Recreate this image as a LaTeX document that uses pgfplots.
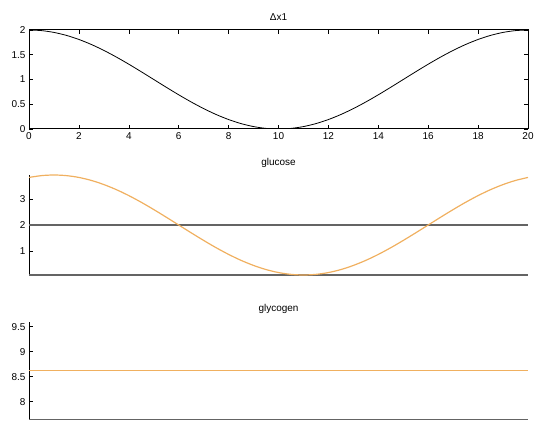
\documentclass[border=0pt]{standalone}
\usepackage{pgfplots}
\pgfplotsset{compat=1.18}
\usepackage{fontspec}
\setmainfont{Liberation Sans}

\definecolor{trace}{RGB}{240,176,96}
\definecolor{refline}{RGB}{100,100,100}

\pgfplotsset{
  panel/.style={
    scale only axis, width=499bp,
    xmin=0, xmax=20,
    tick align=inside, major tick length=4bp,
    tick style={black, line width=0.6bp},
    axis line style={line width=1bp},
    ticklabel style={font=\fontsize{10}{12}\selectfont},
    /pgf/number format/assume math mode=true,
    title style={font=\fontsize{10}{12}\selectfont, at={(0.5,1)}, anchor=base, yshift=4bp},
  }
}

\begin{document}
\begin{tikzpicture}[x=1bp,y=1bp]

% displacement
\begin{axis}[panel, at={(29bp,292bp)}, anchor=south west, height=99bp,
  ymin=0, ymax=2, ytick={0,0.5,1,1.5,2}, xtick={0,2,...,20},
  title={Δx1}]
\addplot[black, line width=0.8bp, smooth] coordinates {
 (0,2) (0.5,1.98769) (1,1.95106) (1.5,1.89101) (2,1.80902) (2.5,1.70711)
 (3,1.58779) (3.5,1.45399) (4,1.30902) (4.5,1.15643) (5,1) (5.5,0.84357)
 (6,0.69098) (6.5,0.54601) (7,0.41221) (7.5,0.29289) (8,0.19098) (8.5,0.10899)
 (9,0.04894) (9.5,0.01231) (10,0) (10.5,0.01231) (11,0.04894) (11.5,0.10899)
 (12,0.19098) (12.5,0.29289) (13,0.41221) (13.5,0.54601) (14,0.69098)
 (14.5,0.84357) (15,1) (15.5,1.15643) (16,1.30902) (16.5,1.45399) (17,1.58779)
 (17.5,1.70711) (18,1.80902) (18.5,1.89101) (19,1.95106) (19.5,1.98769) (20,2)
};
\end{axis}

% glucose
\begin{axis}[panel, at={(29bp,146bp)}, anchor=south west, height=100bp,
  ymin=0.08, ymax=3.92, ytick={1,2,3},
  axis y line*=left, axis x line=none,
  title={glucose}]
\addplot[refline, line width=1.1bp] coordinates {(0,0.08) (20,0.08)};
\addplot[refline, line width=1.1bp] coordinates {(0,2) (20,2)};
\addplot[trace, line width=1.2bp, smooth] coordinates {
 (0,3.826) (0.5,3.896) (1,3.920) (1.5,3.896) (2,3.826) (2.5,3.711) (3,3.553)
 (3.5,3.358) (4,3.129) (4.5,2.872) (5,2.593) (5.5,2.300) (6,2.000) (6.5,1.700)
 (7,1.407) (7.5,1.128) (8,0.871) (8.5,0.642) (9,0.447) (9.5,0.289) (10,0.174)
 (10.5,0.104) (11,0.080) (11.5,0.104) (12,0.174) (12.5,0.289) (13,0.447)
 (13.5,0.642) (14,0.871) (14.5,1.128) (15,1.407) (15.5,1.700) (16,2.000)
 (16.5,2.300) (17,2.593) (17.5,2.872) (18,3.129) (18.5,3.358) (19,3.553)
 (19.5,3.711) (20,3.826)
};
\end{axis}

% glycogen
\begin{axis}[panel, at={(29bp,1.7bp)}, anchor=south west, height=97.6bp,
  ymin=7.65, ymax=9.6, ytick={8,8.5,9,9.5},
  axis y line*=left, axis x line=none,
  title={glycogen}]
\addplot[refline, line width=1.1bp] coordinates {(0,7.65) (20,7.65)};
\addplot[trace, line width=1.2bp] coordinates {(0,8.63) (20,8.63)};
\end{axis}

\pgfresetboundingbox
\path (0,0) rectangle (536,421);
\end{tikzpicture}
\end{document}
